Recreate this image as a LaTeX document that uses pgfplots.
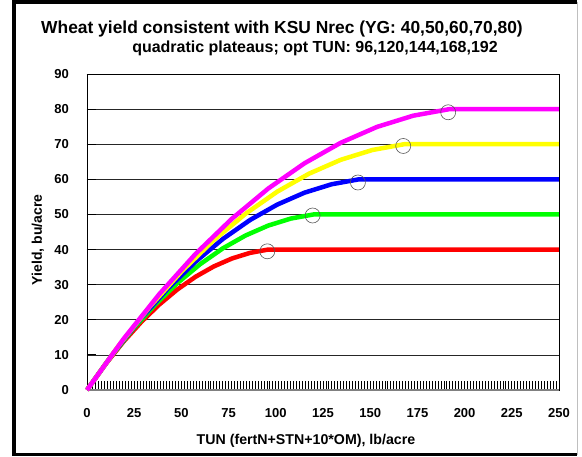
\documentclass[border=0pt]{standalone}
\usepackage{pgfplots}
\pgfplotsset{compat=1.18}
\usepackage{fontspec}
\setmainfont{Liberation Sans}
\definecolor{xlred}{RGB}{255,0,0}
\definecolor{xlgreen}{RGB}{0,255,0}
\definecolor{xlblue}{RGB}{0,0,255}
\definecolor{xlyellow}{RGB}{255,255,0}
\definecolor{xlmagenta}{RGB}{255,0,255}
\begin{document}
\begin{tikzpicture}[x=1pt,y=1pt]
\path[use as bounding box] (0,0) rectangle (582,457);
\fill[white] (0,0) rectangle (582,457);
\begin{axis}[
  at={(87pt,67pt)}, anchor=south west,
  scale only axis, width=472pt, height=316pt,
  xmin=0, xmax=250, ymin=0, ymax=90,
  xtick={0,25,...,250}, ytick={0,10,...,90},
  minor x tick num=15,
  xtick pos=bottom, ytick pos=left,
  tick align=inside,
  major tick length=9pt, minor tick length=9pt,
  every tick/.style={black, line width=0.8pt},
  ymajorgrids, major grid style={black!85, line width=0.7pt},
  axis line style={black, line width=0.8pt},
  /pgf/number format/assume math mode=true,
  tick label style={font=\fontsize{13}{15}\selectfont\bfseries},
  xticklabel style={anchor=north, inner sep=0pt, yshift=-18pt},
  yticklabel style={anchor=east, inner sep=0pt, xshift=-18pt},
  xlabel={TUN (fertN+STN+10*OM), lb/acre},
  ylabel={Yield, bu/acre},
  xlabel style={at={([xshift=-17pt,yshift=-55pt]axis description cs:0.5,0)}, anchor=base, font=\fontsize{14.2}{16}\selectfont\bfseries},
  ylabel style={at={([xshift=-45pt,yshift=-8pt]axis description cs:0,0.5)}, rotate=0, anchor=base, font=\fontsize{14}{16}\selectfont\bfseries},
  clip=false,
]
\draw[gray, line width=1.6pt] (axis cs:0,0) -- (axis cs:250,0);
% red: YG 40, opt 96
\addplot[xlred, line width=4.5pt, line join=round, no marks] coordinates {
(0,0) (9.6,7.22) (19.2,13.68) (28.8,19.41) (38.4,24.40) (48,28.69) (57.6,32.28) (67.2,35.20) (76.8,37.46) (86.4,39.06) (96,40) (250,40)};
% green: YG 50, opt 120
\addplot[xlgreen, line width=4.5pt, line join=round, no marks] coordinates {
(0,0) (12,9.03) (24,17.11) (36,24.26) (48,30.50) (60,35.86) (72,40.36) (84,44.01) (96,46.83) (108,48.83) (120,50) (250,50)};
% blue: YG 60, opt 144
\addplot[xlblue, line width=4.5pt, line join=round, no marks] coordinates {
(0,0) (14.4,10.83) (28.8,20.53) (43.2,29.11) (57.6,36.60) (72,43.03) (86.4,48.43) (100.8,52.81) (115.2,56.20) (129.6,58.60) (144,60) (250,60)};
% yellow: YG 70, opt 168
\addplot[xlyellow, line width=4.5pt, line join=round, no marks] coordinates {
(0,0) (16.8,12.64) (33.6,23.95) (50.4,33.96) (67.2,42.70) (84,50.20) (100.8,56.50) (117.6,61.61) (134.4,65.56) (151.2,68.36) (168,70) (250,70)};
% magenta: YG 80, opt 192
\addplot[xlmagenta, line width=4.5pt, line join=round, no marks] coordinates {
(0,0) (19.2,14.44) (38.4,27.37) (57.6,38.82) (76.8,48.80) (96,57.38) (115.2,64.57) (134.4,70.41) (153.6,74.93) (172.8,78.13) (192,80) (250,80)};
% optimum circles
\addplot[only marks, mark=o, mark size=7.5pt, mark options={draw=black!65, line width=0.6pt}] coordinates {
(95.5,39.5) (119.5,49.7) (143.5,59.1) (167.5,69.5) (191.3,79.1)};
\end{axis}
\node[anchor=base, font=\fontsize{17.4}{20}\selectfont\bfseries] at (282,423.5) {Wheat yield consistent with KSU Nrec (YG: 40,50,60,70,80)};
\node[anchor=base, font=\fontsize{16}{18}\selectfont\bfseries] at (315,404.7) {quadratic plateaus; opt TUN: 96,120,144,168,192};
\draw[black, line width=3.5pt] (577,455) -- (14,455) -- (14,2.5) -- (577,2.5);
\draw[black!25, line width=1pt] (577,2) -- (577,455);
\end{tikzpicture}
\end{document}
